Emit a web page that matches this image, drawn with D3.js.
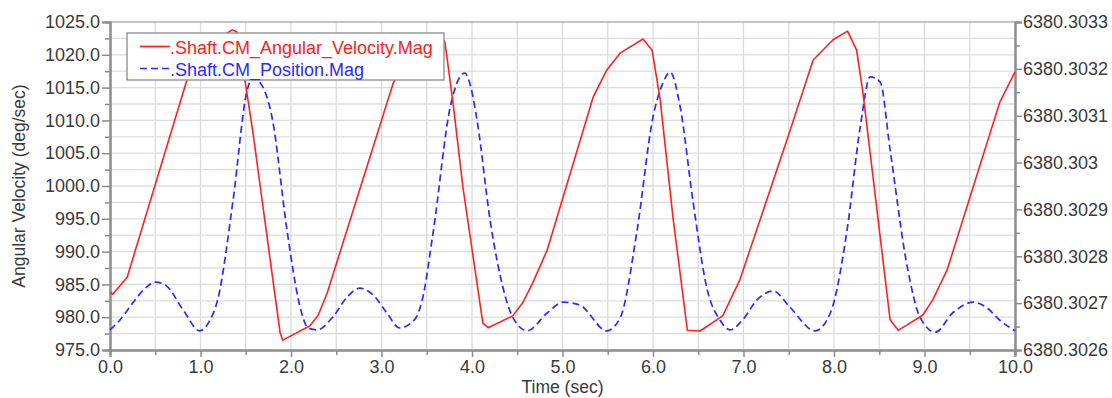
<!DOCTYPE html>
<html>
<head>
<meta charset="utf-8">
<script src="https://cdn.jsdelivr.net/npm/d3@7"></script>
<style>
    html, body { margin: 0; padding: 0; background: #ffffff; }
    svg { display: block; font-family: "Liberation Sans", Arial, sans-serif; }
</style>
</head>
<body>
<div id="chart"></div>
<script>
// ── Data ──────────────────────────────────────────────────────────────────────

const velTime = [0.00, 0.03, 0.19, 0.86, 0.99, 1.14, 1.35, 1.40, 1.49, 1.58, 1.73, 1.88, 1.91,
    2.21, 2.30, 2.40, 3.13, 3.26, 3.40, 3.61, 3.70, 3.79, 3.90, 4.12, 4.18, 4.45, 4.56, 4.67,
    4.83, 5.34, 5.49, 5.64, 5.89, 5.99, 6.08, 6.22, 6.38, 6.52, 6.77, 6.96, 7.48, 7.77, 7.99,
    8.15, 8.25, 8.32, 8.62, 8.71, 8.98, 9.09, 9.25, 9.83, 10.00];
const angularVelocity = [983.8, 983.5, 986.1, 1016.6, 1019.5, 1022.0, 1023.8, 1023.5, 1016.2,
    1008.1, 992.8, 977.6, 976.5, 978.7, 980.3, 983.7, 1015.7, 1018.9, 1021.3, 1023.2, 1022.0,
    1012.7, 999.8, 979.1, 978.4, 980.2, 982.2, 985.2, 990.2, 1013.6, 1017.7, 1020.3, 1022.4,
    1020.7, 1013.1, 995.3, 978.0, 977.9, 980.2, 985.7, 1007.0, 1019.2, 1022.3, 1023.6, 1020.7,
    1014.2, 979.6, 978.0, 980.3, 982.6, 987.2, 1012.7, 1017.4];

const posTime = [0.00, 0.11, 0.25, 0.39, 0.50, 0.61, 0.81, 0.99, 1.10, 1.19, 1.36, 1.51, 1.57,
    1.66, 1.79, 1.96, 2.10, 2.19, 2.29, 2.46, 2.62, 2.76, 2.91, 3.06, 3.20, 3.37, 3.45, 3.57,
    3.76, 3.92, 3.98, 4.06, 4.20, 4.31, 4.45, 4.61, 4.83, 5.01, 5.19, 5.49, 5.64, 5.82, 6.00,
    6.11, 6.19, 6.30, 6.44, 6.60, 6.74, 6.85, 6.99, 7.15, 7.33, 7.51, 7.79, 7.96, 8.14, 8.29,
    8.40, 8.51, 8.62, 8.81, 8.95, 9.12, 9.31, 9.54, 9.69, 9.83, 10.00];
const position = [6380.302643, 6380.302664, 6380.302700, 6380.302732, 6380.302745, 6380.302739,
    6380.302685, 6380.302641, 6380.302662, 6380.302707, 6380.302920, 6380.303149, 6380.303181,
    6380.303170, 6380.303097, 6380.302850, 6380.302692, 6380.302647, 6380.302643, 6380.302670,
    6380.302713, 6380.302732, 6380.302717, 6380.302679, 6380.302647, 6380.302666, 6380.302707,
    6380.302850, 6380.303119, 6380.303191, 6380.303166, 6380.303085, 6380.302877, 6380.302760,
    6380.302670, 6380.302641, 6380.302679, 6380.302702, 6380.302696, 6380.302641, 6380.302670,
    6380.302850, 6380.303097, 6380.303170, 6380.303193, 6380.303119, 6380.302920, 6380.302728,
    6380.302664, 6380.302643, 6380.302664, 6380.302707, 6380.302726, 6380.302692, 6380.302641,
    6380.302679, 6380.302850, 6380.303076, 6380.303183, 6380.303172, 6380.303027, 6380.302777,
    6380.302670, 6380.302638, 6380.302679, 6380.302702, 6380.302690, 6380.302664, 6380.302641];

const xTicks = [0, 1, 2, 3, 4, 5, 6, 7, 8, 9, 10];
const leftTicks = [975, 980, 985, 990, 995, 1000, 1005, 1010, 1015, 1020, 1025];
const rightTicks = [6380.3026, 6380.3027, 6380.3028, 6380.3029, 6380.3030, 6380.3031, 6380.3032, 6380.3033];
const seriesNames = [".Shaft.CM_Angular_Velocity.Mag", ".Shaft.CM_Position.Mag"];

// ── Layout ────────────────────────────────────────────────────────────────────

const W = 1112, H = 398;
const plot = { left: 110, right: 1015, top: 22, bottom: 350 };
const textColor = "#3a3a3a";
const axisColor = "#8c8c8c";
const gridColor = "#dcdcdc";

const svg = d3.select("#chart").append("svg")
    .attr("width", W)
    .attr("height", H);

const x = d3.scaleLinear().domain([0, 10]).range([plot.left, plot.right]);
const yL = d3.scaleLinear().domain([975, 1025]).range([plot.bottom, plot.top]);
const yR = d3.scaleLinear().domain([6380.3026, 6380.3033]).range([plot.bottom, plot.top]);

// ── Grid ──────────────────────────────────────────────────────────────────────

const grid = svg.append("g");
grid.selectAll(".vgrid")
    .data(d3.range(0.5, 10, 0.5))
    .enter().append("line")
    .attr("x1", d => x(d)).attr("x2", d => x(d))
    .attr("y1", plot.top).attr("y2", plot.bottom)
    .attr("stroke", gridColor).attr("stroke-width", 1.3);

grid.selectAll(".hgrid")
    .data(d3.range(977.5, 1025, 2.5))
    .enter().append("line")
    .attr("x1", plot.left).attr("x2", plot.right)
    .attr("y1", d => yL(d)).attr("y2", d => yL(d))
    .attr("stroke", gridColor).attr("stroke-width", 1.3);

grid.append("line")
    .attr("x1", plot.left).attr("x2", plot.right)
    .attr("y1", plot.top).attr("y2", plot.top)
    .attr("stroke", "#c4c4c4").attr("stroke-width", 2);

// ── Axes ──────────────────────────────────────────────────────────────────────

function styleAxis(g) {
    g.select(".domain").attr("stroke", axisColor).attr("stroke-width", 2);
    g.selectAll(".tick line").attr("stroke", axisColor).attr("stroke-width", 1.5);
    g.selectAll(".tick text")
        .attr("fill", textColor)
        .style("font-size", "18px")
        .style("font-family", "'Liberation Sans', Arial, sans-serif");
}

// minor ticks first, so the major ones sit on top
svg.append("g")
    .attr("transform", `translate(0,${plot.bottom})`)
    .call(d3.axisBottom(x).tickValues(d3.range(0.5, 10, 1)).tickSize(5).tickFormat(""))
    .call(styleAxis);
svg.append("g")
    .attr("transform", `translate(${plot.left},0)`)
    .call(d3.axisLeft(yL).tickValues(d3.range(977.5, 1025, 5)).tickSize(5).tickFormat(""))
    .call(styleAxis);
svg.append("g")
    .attr("transform", `translate(${plot.right},0)`)
    .call(d3.axisRight(yR).tickValues(rightTicks.slice(1).map(v => v - 0.00005)).tickSize(5).tickFormat(""))
    .call(styleAxis);

svg.append("g")
    .attr("transform", `translate(0,${plot.bottom})`)
    .call(d3.axisBottom(x).tickValues(xTicks).tickSize(7).tickPadding(3).tickFormat(d3.format(".1f")))
    .call(styleAxis);

svg.append("g")
    .attr("transform", `translate(${plot.left},0)`)
    .call(d3.axisLeft(yL).tickValues(leftTicks).tickSize(8).tickPadding(2).tickFormat(d3.format(".1f")))
    .call(styleAxis);

svg.append("g")
    .attr("transform", `translate(${plot.right},0)`)
    .call(d3.axisRight(yR).tickValues(rightTicks).tickSize(7).tickPadding(1)
        .tickFormat(d => (+d.toFixed(4)).toString()))
    .call(styleAxis);

// ── Axis titles ───────────────────────────────────────────────────────────────

svg.append("text")
    .attr("transform", `translate(25,${(plot.top + plot.bottom) / 2}) rotate(-90)`)
    .attr("text-anchor", "middle")
    .attr("fill", textColor)
    .style("font-size", "17.5px")
    .text("Angular Velocity (deg/sec)");

svg.append("text")
    .attr("x", (plot.left + plot.right) / 2)
    .attr("y", 393)
    .attr("text-anchor", "middle")
    .attr("fill", textColor)
    .style("font-size", "17.5px")
    .text("Time (sec)");

// ── Series ────────────────────────────────────────────────────────────────────

const velLine = d3.line()
    .x((d, i) => x(velTime[i]))
    .y(d => yL(d));

const posLine = d3.line()
    .x((d, i) => x(posTime[i]))
    .y(d => yR(d))
    .curve(d3.curveMonotoneX);

const series = svg.append("g");
series.append("path")
    .attr("d", posLine(position))
    .attr("fill", "none")
    .attr("stroke", "#2b2bff")
    .attr("stroke-width", 1.7)
    .attr("stroke-dasharray", "7,4");

series.append("path")
    .attr("d", velLine(angularVelocity))
    .attr("fill", "none")
    .attr("stroke", "#ff2020")
    .attr("stroke-width", 1.6)
    .attr("stroke-linejoin", "round");

// ── Legend ────────────────────────────────────────────────────────────────────

const legend = svg.append("g");
legend.append("rect")
    .attr("x", 127).attr("y", 33)
    .attr("width", 317).attr("height", 47)
    .attr("fill", "#ffffff")
    .attr("stroke", "#8a8a8a")
    .attr("stroke-width", 1.3);

const legendColors = ["#ff2020", "#2b2bff"];
const legendDash = [null, "7,4"];
seriesNames.forEach((name, i) => {
    const cy = 46.5 + i * 22;
    legend.append("line")
        .attr("x1", 140).attr("x2", 170)
        .attr("y1", cy).attr("y2", cy)
        .attr("stroke", legendColors[i])
        .attr("stroke-width", 1.7)
        .attr("stroke-dasharray", legendDash[i]);
    legend.append("text")
        .attr("x", 170).attr("y", cy + 7)
        .attr("fill", legendColors[i])
        .style("font-size", "18px")
        .text(name);
});
</script>
</body>
</html>
